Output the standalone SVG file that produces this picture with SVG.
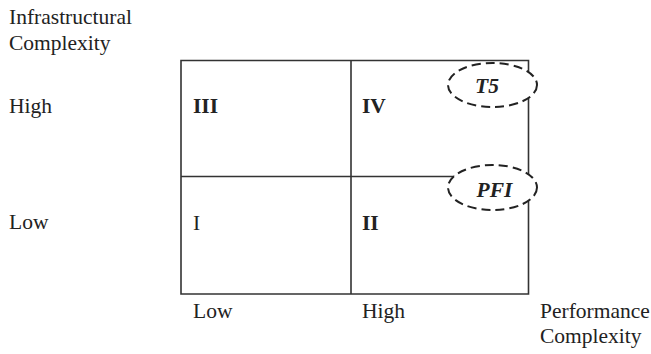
<svg xmlns="http://www.w3.org/2000/svg" width="651" height="354" viewBox="0 0 651 354">
<style>
text{font-family:"Liberation Serif","Times New Roman",serif;font-size:21.5px;fill:#222}
.b{font-weight:bold}
.bi{font-weight:bold;font-style:italic}
.ln{stroke:#333;stroke-width:1.6;fill:none}
.el{stroke:#222;stroke-width:2;stroke-dasharray:9,5;fill:#fff}
</style>
<rect width="651" height="354" fill="#fff"/>
<g id="axes-labels">
<text x="9" y="24">Infrastructural</text>
<text x="9" y="50">Complexity</text>
<text x="9" y="113">High</text>
<text x="9" y="229">Low</text>
<text x="193" y="318">Low</text>
<text x="362" y="318">High</text>
<text x="540" y="318">Performance</text>
<text x="540" y="343">Complexity</text>
</g>
<g id="connectors">
<path class="ln" d="M181,60.5 H528.5 V294 H181 Z M351,60.5 V294 M181,176.5 H528.5"/>
</g>
<g id="q3"><text class="b" x="193" y="113">III</text></g>
<g id="q4"><text class="b" x="362" y="113">IV</text></g>
<g id="q1"><text x="193" y="230">I</text></g>
<g id="q2"><text class="b" x="362" y="230">II</text></g>
<g id="t5">
<ellipse class="el" cx="492.5" cy="85" rx="44.5" ry="22"/>
<text class="bi" x="487" y="93" text-anchor="middle">T5</text>
</g>
<g id="pfi">
<ellipse class="el" cx="492.5" cy="187.5" rx="44.5" ry="22.5"/>
<text class="bi" x="494.5" y="197" text-anchor="middle">PFI</text>
</g>
</svg>
